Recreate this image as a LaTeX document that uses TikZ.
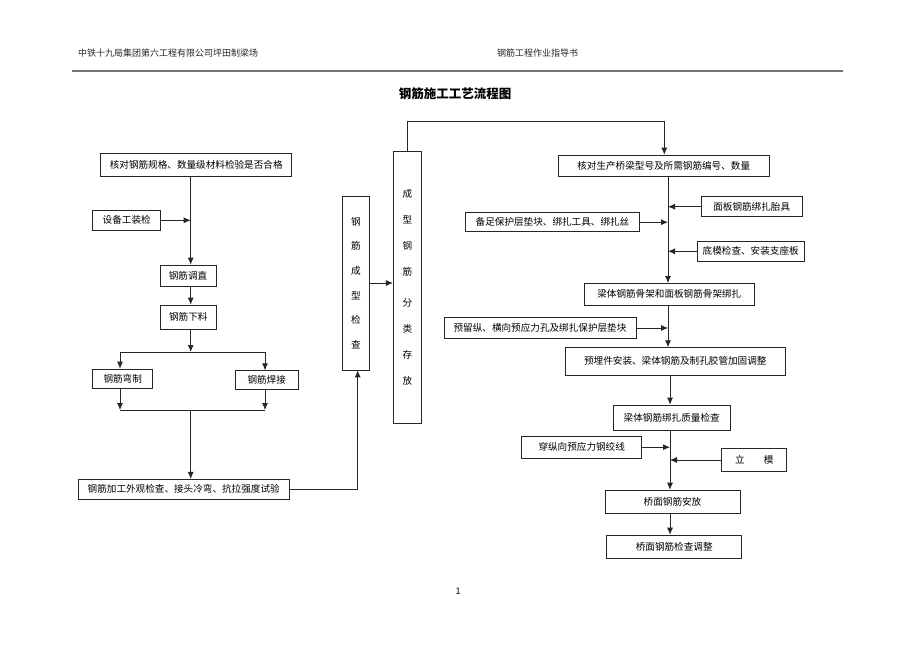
\documentclass[tikz,border=0pt]{standalone}
\usepackage{fontspec}
\setmainfont{Noto Sans CJK SC}
\usetikzlibrary{arrows.meta}
\begin{document}
\begin{tikzpicture}[x=1pt,y=-1pt,
  box/.style={draw=black!85,line width=0.7pt,inner sep=0pt,font=\fontsize{9.6}{11}\selectfont},
  arr/.style={draw=black!85,line width=0.8pt,-{Latex[length=7pt,width=6pt]}},
  ln/.style={draw=black!85,line width=0.8pt},
  hdr/.style={font=\fontsize{9}{11}\selectfont,text=black!85,inner sep=0pt,anchor=west}]
\fill[white] (0,0) rectangle (920,651);
\useasboundingbox (0,0) rectangle (920,651);
% header
\node[hdr] (h1) at (78,53) {中铁十九局集团第六工程有限公司坪田制梁场};
\node[hdr] (h2) at (497,53) {钢筋工程作业指导书};
\coordinate (hl1) at (72,71);
\coordinate (hl2) at (843,71);
\draw[black!55,line width=1.6pt] (hl1) -- (hl2);
\node[font=\fontsize{12.5}{14}\selectfont\bfseries,inner sep=0pt] (title) at (455,94) {钢筋施工工艺流程图};
\node[font=\fontsize{9}{11}\selectfont,inner sep=0pt] (page) at (458,591) {1};
% left column
\node[box,minimum width=191pt,minimum height=23pt] (b1) at (196.2,164.5) {核对钢筋规格、数量级材料检验是否合格};
\node[box,minimum width=68pt,minimum height=20.7pt] (shebei) at (126.7,220.3) {设备工装检};
\node[box,minimum width=56pt,minimum height=21pt] (tiao) at (188,275.5) {钢筋调直};
\node[box,minimum width=56.7pt,minimum height=24.3pt] (xialiao) at (188.3,317.2) {钢筋下料};
\node[box,minimum width=60pt,minimum height=19pt] (wanzhi) at (122.7,378.5) {钢筋弯制};
\node[box,minimum width=63.3pt,minimum height=18.6pt] (hanjie) at (266.7,380) {钢筋焊接};
\node[box,minimum width=210.7pt,minimum height=20pt] (jiagong) at (183.7,489.3) {钢筋加工外观检查、接头冷弯、抗拉强度试验};
\node[box,minimum width=27pt,minimum height=174pt,align=center,font=\fontsize{9.6}{24.7}\selectfont] (chengxing) at (355.8,283) {钢\\筋\\成\\型\\检\\查};
\node[box,minimum width=28pt,minimum height=271.6pt,align=center,font=\fontsize{9.6}{26.1}\selectfont] (cunfang) at (407.3,287.5) {成\\型\\钢\\筋\\[5pt]分\\类\\存\\放};
% right column
\node[box,minimum width=210.7pt,minimum height=21pt] (hedui) at (663.7,165.5) {核对生产桥梁型号及所需钢筋编号、数量};
\node[box,minimum width=101.3pt,minimum height=20pt] (mianban) at (751.7,206.7) {面板钢筋绑扎胎具};
\node[box,minimum width=173.6pt,minimum height=19pt] (beizu) at (552.5,222.2) {备足保护层垫块、绑扎工具、绑扎丝};
\node[box,minimum width=106.7pt,minimum height=20.7pt] (dimo) at (750.7,251.3) {底模检查、安装支座板};
\node[box,minimum width=170pt,minimum height=21.7pt] (liangti) at (669.3,294.2) {梁体钢筋骨架和面板钢筋骨架绑扎};
\node[box,minimum width=192pt,minimum height=20.6pt] (yuliu) at (540,328) {预留纵、横向预应力孔及绑扎保护层垫块};
\node[box,minimum width=220.7pt,minimum height=27.3pt] (yumai) at (675.3,361.3) {预埋件安装、梁体钢筋及制孔胶管加固调整};
\node[box,minimum width=116.7pt,minimum height=25pt] (zhiliang) at (671.7,417.5) {梁体钢筋绑扎质量检查};
\node[box,minimum width=120pt,minimum height=22.3pt] (chuan) at (581.7,447.2) {穿纵向预应力钢绞线\hspace{14pt}};
\node[box,minimum width=65pt,minimum height=23.3pt] (limo) at (754.2,460) {立\hspace{2em}模};
\node[box,minimum width=135pt,minimum height=23.3pt] (qiaomian) at (672.5,501.7) {桥面钢筋安放\hspace{20pt}};
\node[box,minimum width=135pt,minimum height=23.3pt] (tiaozheng) at (674.2,546.7) {桥面钢筋检查调整\hspace{18pt}};
% helper coordinates
\coordinate (lx) at (190.7,0);
\coordinate (j1) at (190.7,352);
\coordinate (jl) at (120,352);
\coordinate (jr) at (265,352);
\coordinate (k1) at (190.7,410);
\coordinate (kl) at (120,410);
\coordinate (kr) at (265,410);
\coordinate (up1) at (357.7,489.3);
\coordinate (top1) at (407.7,121.7);
\coordinate (top2) at (664.3,121.7);
\coordinate (rx) at (668,0);
\coordinate (rx2) at (670,0);
% left connectors
\draw[arr] (b1.south -| lx) -- (tiao.north -| lx);
\draw[arr] (shebei.east) -- (shebei.east -| lx);
\draw[arr] (tiao.south -| lx) -- (xialiao.north -| lx);
\draw[arr] (xialiao.south -| lx) -- (j1);
\draw[ln] (jl) -- (jr);
\draw[arr] (jl) -- (wanzhi.north -| jl);
\draw[arr] (jr) -- (hanjie.north -| jr);
\draw[arr] (wanzhi.south -| kl) -- (kl);
\draw[arr] (hanjie.south -| kr) -- (kr);
\draw[ln] (kl) -- (kr);
\draw[arr] (k1) -- (jiagong.north -| k1);
\draw[arr] (jiagong.east) -- (up1) -- (chengxing.south -| up1);
\draw[arr] (chengxing.east) -- (chengxing.east -| cunfang.west);
\draw[arr] (cunfang.north -| top1) -- (top1) -- (top2) -- (hedui.north -| top2);
% right connectors
\draw[arr] (hedui.south -| rx) -- (liangti.north -| rx);
\draw[arr] (mianban.west) -- (mianban.west -| rx);
\draw[arr] (beizu.east) -- (beizu.east -| rx);
\draw[arr] (dimo.west) -- (dimo.west -| rx);
\draw[arr] (liangti.south -| rx) -- (yumai.north -| rx);
\draw[arr] (yuliu.east) -- (yuliu.east -| rx);
\draw[arr] (yumai.south -| rx2) -- (zhiliang.north -| rx2);
\draw[arr] (zhiliang.south -| rx2) -- (qiaomian.north -| rx2);
\draw[arr] (chuan.east) -- (chuan.east -| rx2);
\draw[arr] (limo.west) -- (limo.west -| rx2);
\draw[arr] (qiaomian.south -| rx2) -- (tiaozheng.north -| rx2);
\end{tikzpicture}
\end{document}
